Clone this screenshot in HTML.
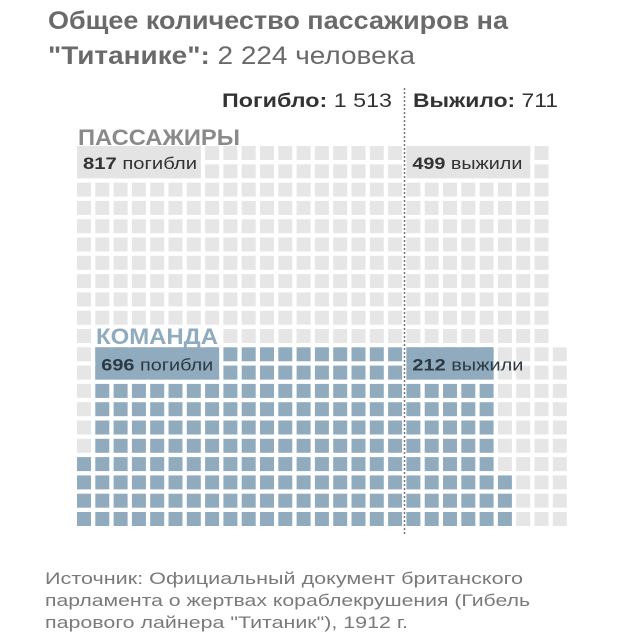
<!DOCTYPE html>
<html><head><meta charset="utf-8"><style>
html,body{margin:0;padding:0;background:#fff;}
svg{display:block;font-family:"Liberation Sans",Arial,sans-serif;}
</style></head><body>
<svg id="chart" width="640" height="640" viewBox="0 0 640 640">
<g>
<text x="48" y="29" font-size="25" font-weight="bold" fill="#6a6a6a" textLength="460" lengthAdjust="spacingAndGlyphs">Общее количество пассажиров на</text>
<text x="48" y="64" font-size="25" fill="#6a6a6a" textLength="367" lengthAdjust="spacingAndGlyphs"><tspan font-weight="bold">"Титанике":</tspan> 2 224 человека</text>
</g>
<text x="222" y="107" font-size="19" fill="#333" textLength="170" lengthAdjust="spacingAndGlyphs"><tspan font-weight="bold">Погибло:</tspan> 1 513</text>
<text x="413" y="107" font-size="19" fill="#333" textLength="145" lengthAdjust="spacingAndGlyphs"><tspan font-weight="bold">Выжило:</tspan> 711</text>
<g id="cells"></g>
<g id="labels"></g>
<line x1="404.5" y1="88" x2="404.5" y2="536" stroke="#777" stroke-width="1.5" stroke-dasharray="2,2"/>
<g font-size="17" fill="#7a7a7a">
<text x="45" y="584" textLength="478" lengthAdjust="spacingAndGlyphs">Источник: Официальный документ британского</text>
<text x="45" y="606" textLength="485" lengthAdjust="spacingAndGlyphs">парламента о жертвах кораблекрушения (Гибель</text>
<text x="45" y="628" textLength="363" lengthAdjust="spacingAndGlyphs">парового лайнера "Титаник"), 1912 г.</text>
</g>
</svg>
<script>
const groups = ["dead-passengers","dead-crew","survived-passengers","survived-crew"];
const values = [817, 696, 499, 212];
const perCell = 4;
const labelWords = ["погибли","погибли","выжили","выжили"];

const NS="http://www.w3.org/2000/svg";
const X0=77, Y0=146, P=18.3, S=14, ROWS=21, LCOLS=18, RCOLS=9, CREWROWS=10;
const BLUE="#8fabbd", GREY="#e6e6e6";
const cx=c=>X0+c*P, cy=r=>Y0+r*P;
const grid={};
function set(c,r,t){grid[c+","+r]=t;}
const n=values.map(v=>Math.round(v/perCell));
let k=n[1];
for(let c=LCOLS-1;c>=0&&k>0;c--) for(let r=ROWS-1;r>=ROWS-CREWROWS&&k>0;r--){set(c,r,"crew");k--;}
k=n[0];
for(let c=LCOLS-1;c>=0&&k>0;c--) for(let r=ROWS-1;r>=0&&k>0;r--){if(!grid[c+","+r]){set(c,r,"pass");k--;}}
k=n[3];
for(let c=LCOLS;c<LCOLS+RCOLS&&k>0;c++) for(let r=ROWS-1;r>=ROWS-CREWROWS&&k>0;r--){set(c,r,"crew");k--;}
k=n[2];
for(let c=LCOLS;c<LCOLS+RCOLS&&k>0;c++) for(let r=ROWS-1;r>=0&&k>0;r--){if(!grid[c+","+r]){set(c,r,"pass");k--;}}
const g=document.getElementById("cells");
for(const key in grid){
  const [c,r]=key.split(",").map(Number);
  const el=document.createElementNS(NS,"rect");
  el.setAttribute("x",cx(c));el.setAttribute("y",cy(r));
  el.setAttribute("width",S);el.setAttribute("height",S);
  el.setAttribute("fill",grid[key]==="crew"?BLUE:GREY);
  
  
  g.appendChild(el);
}
const L=document.getElementById("labels");
function box(c0,c1,r,fill,name){
  const el=document.createElementNS(NS,"rect");
  el.setAttribute("x",cx(c0));el.setAttribute("y",cy(r));
  el.setAttribute("width",cx(c1)+S-cx(c0));el.setAttribute("height",P+S);
  el.setAttribute("fill",fill);
  
  
  L.appendChild(el);
}
function txt(x,y,num,word,name,color,len){
  const t=document.createElementNS(NS,"text");
  t.setAttribute("x",x);t.setAttribute("y",y);t.setAttribute("font-size","16.5");t.setAttribute("fill",color);
  t.setAttribute("textLength",len);t.setAttribute("lengthAdjust","spacingAndGlyphs");
  t.innerHTML='<tspan font-weight="bold">'+num+'</tspan> '+word;
  
  
  L.appendChild(t);
}
const crewTop=ROWS-CREWROWS;
const wb=document.createElementNS(NS,"rect");
wb.setAttribute("x",cx(1)-2);wb.setAttribute("y",cy(crewTop-1)-3);wb.setAttribute("width",cx(8)-cx(1));wb.setAttribute("height",P);wb.setAttribute("fill","#fff");


L.appendChild(wb);
box(0,6,0,"#e4e4e4","dead-passengers-label-box");
box(LCOLS,LCOLS+6,0,"#e4e4e4","survived-passengers-label-box");
box(1,7,crewTop,BLUE,"dead-crew-label-box");
box(LCOLS,LCOLS+4,crewTop,BLUE,"survived-crew-label-box");
txt(cx(0)+6,cy(0)+23,values[0],labelWords[0],"dead-passengers-label","#333",114);
txt(cx(LCOLS)+6,cy(0)+23,values[2],labelWords[2],"survived-passengers-label","#333",110);
txt(cx(1)+6,cy(crewTop)+23,values[1],labelWords[1],"dead-crew-label","#2c3a44",112);
txt(cx(LCOLS)+6,cy(crewTop)+23,values[3],labelWords[3],"survived-crew-label","#2c3a44",111);
function title(x,y,s,fill,name,len){
  const t=document.createElementNS(NS,"text");
  t.setAttribute("x",x);t.setAttribute("y",y);t.setAttribute("font-size","22");t.setAttribute("font-weight","bold");t.setAttribute("fill",fill);
  t.setAttribute("textLength",len);t.setAttribute("lengthAdjust","spacingAndGlyphs");
  t.textContent=s;
  
  
  L.appendChild(t);
}
title(78,145,"ПАССАЖИРЫ","#8a8a8a","passengers-title",162);
title(96,344,"КОМАНДА","#8fabbd","crew-title",122);
</script>
</body></html>
